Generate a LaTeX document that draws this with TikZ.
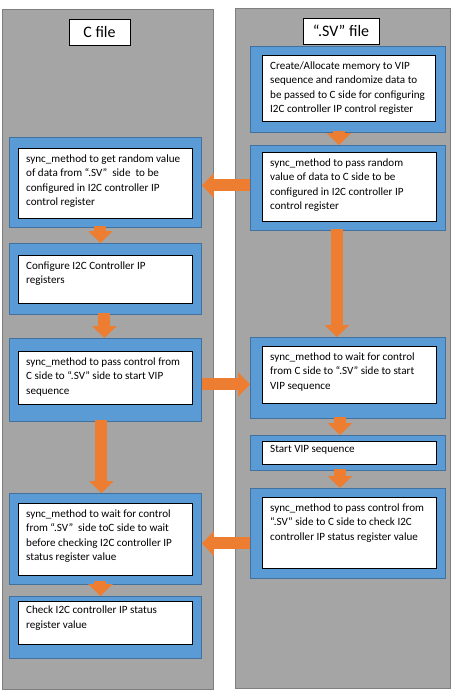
\documentclass[tikz,border=0pt]{standalone}
\usepackage{fontspec}
\setmainfont{Carlito}
\usetikzlibrary{arrows.meta,positioning,calc}
\definecolor{panelgray}{RGB}{165,165,165}
\definecolor{paneledge}{RGB}{127,127,127}
\definecolor{stepblue}{RGB}{91,155,213}
\definecolor{stepedge}{RGB}{65,113,156}
\definecolor{floworange}{RGB}{237,125,49}
\tikzset{
	panel/.style={draw=paneledge,fill=panelgray,line width=0.8pt,anchor=north west},
	filetitle/.style={draw=black,fill=white,line width=0.8pt,minimum height=26pt,
		inner sep=2pt,font=\fontsize{16}{18}\selectfont},
	stepback/.style={draw=stepedge,fill=stepblue,line width=0.9pt,anchor=north west},
	stepcard/.style={draw=black,fill=white,line width=0.8pt,anchor=north west},
	steptext/.style={anchor=north west,align=left,inner xsep=8pt,inner ysep=6.5pt,
		font=\fontsize{11.1}{14.3}\selectfont},
	flow/.style={draw=floworange,line width=12pt,-{Triangle[length=12pt,width=24pt]}},
}

\begin{document}
\begin{tikzpicture}[x=1pt,y=-1pt]
		\useasboundingbox (0,0) rectangle (454,694);
		
		% the two file lanes
		\node[panel,minimum width=211pt,minimum height=680pt] (cpanel) at (2,9) {};
		\node[panel,minimum width=215pt,minimum height=680pt] (svpanel) at (235,8) {};
		\node[filetitle,minimum width=61pt] (ctitle) at (99.5,32) {C file};
		\node[filetitle,minimum width=76pt] (svtitle) at (341,31) {“.SV” file};
		
		% C side steps
		\node[stepback,minimum width=192pt,minimum height=90pt] (cget) at (9,137) {};
		\node[stepcard,minimum width=174pt,minimum height=70pt] (cget-card) at (18,148) {};
		\node[steptext] (cget-text) at (cget-card.north west) {%
			sync\_method to get random value\\
			of data from “.SV”\ \ side\ \ to be\\
			configured in I2C controller IP\\
			control register};
		
		\node[stepback,minimum width=192pt,minimum height=71pt] (cconf) at (9,243) {};
		\node[stepcard,minimum width=174pt,minimum height=48pt] (cconf-card) at (18,255) {};
		\node[steptext] (cconf-text) at (cconf-card.north west) {%
			Configure I2C Controller IP\\
			registers};
		
		\node[stepback,minimum width=192pt,minimum height=83pt] (cpass) at (9,338) {};
		\node[stepcard,minimum width=174pt,minimum height=53pt] (cpass-card) at (18,351) {};
		\node[steptext] (cpass-text) at (cpass-card.north west) {%
			sync\_method to pass control from\\
			C side to “.SV” side to start VIP\\
			sequence};
		
		\node[stepback,minimum width=192pt,minimum height=91pt] (cwait) at (9,493) {};
		\node[stepcard,minimum width=174pt,minimum height=72pt] (cwait-card) at (18,503) {};
		\node[steptext] (cwait-text) at (cwait-card.north west) {%
			sync\_method to wait for control\\
			from “.SV”\ \ side toC side to wait\\
			before checking I2C controller IP\\
			status register value};
		
		\node[stepback,minimum width=192pt,minimum height=62pt] (ccheck) at (9,596) {};
		\node[stepcard,minimum width=174pt,minimum height=43pt] (ccheck-card) at (18,601) {};
		\node[steptext,inner ysep=5pt] (ccheck-text) at (ccheck-card.north west) {%
			Check I2C controller IP status\\
			register value};
		
		% .SV side steps
		\node[stepback,minimum width=195pt,minimum height=86pt] (svcreate) at (250,46) {};
		\node[stepcard,minimum width=173pt,minimum height=66pt] (svcreate-card) at (262,55) {};
		\node[steptext] (svcreate-text) at (svcreate-card.north west) {%
			Create/Allocate memory to VIP\\
			sequence and randomize data to\\
			be passed to C side for configuring\\
			I2C controller IP control register};
		
		\node[stepback,minimum width=195pt,minimum height=85pt] (svpass) at (250,145) {};
		\node[stepcard,minimum width=174pt,minimum height=69pt] (svpass-card) at (262,152) {};
		\node[steptext] (svpass-text) at (svpass-card.north west) {%
			sync\_method to pass random\\
			value of data to C side to be\\
			configured in I2C controller IP\\
			control register};
		
		\node[stepback,minimum width=195pt,minimum height=81pt] (svwait) at (250,337) {};
		\node[stepcard,minimum width=174pt,minimum height=57pt] (svwait-card) at (262,346) {};
		\node[steptext] (svwait-text) at (svwait-card.north west) {%
			sync\_method to wait for control\\
			from C side to “.SV” side to start\\
			VIP sequence};
		
		\node[stepback,minimum width=195pt,minimum height=35pt] (svstart) at (250,435) {};
		\node[stepcard,minimum width=174pt,minimum height=23pt] (svstart-card) at (262,441) {};
		\node[steptext,inner ysep=4pt] (svstart-text) at (svstart-card.north west) {Start VIP sequence};
		
		\node[stepback,minimum width=195pt,minimum height=90pt] (svcheck) at (250,488) {};
		\node[stepcard,minimum width=174pt,minimum height=71pt] (svcheck-card) at (262,497) {};
		\node[steptext] (svcheck-text) at (svcheck-card.north west) {%
			sync\_method to pass control from\\
			“.SV” side to C side to check I2C\\
			controller IP status register value};
		
		% hand-over arrows
		\draw[flow] ($(svcreate.south)+(-9,-2)$) -- ($(svpass.north)+(-9,0)$);
		\draw[flow] ($(svpass.west)+(0,-2.5)$) -- ($(cget.east)+(0,3)$);
		\draw[flow] ($(cget.south)+(-5,-2)$) -- ($(cconf.north)+(-5,0)$);
		\draw[flow] ($(cconf.south)+(-1,-2)$) -- ($(cpass.north)+(-1,0)$);
		\draw[flow] ($(cpass.east)+(0,4.5)$) -- ($(svwait.west)+(0,6.5)$);
		\draw[flow] ($(cpass.south)+(-4,-2)$) -- ($(cwait.north)+(-4,0)$);
		\draw[flow] ($(svpass.south)+(-11,-2)$) -- ($(svwait.north)+(-11,0)$);
		\draw[flow] ($(svwait.south)+(-8,-2)$) -- ($(svstart.north)+(-8,0)$);
		\draw[flow] ($(svstart.south)+(-8,-2)$) -- ($(svcheck.north)+(-8,0)$);
		\draw[flow] ($(svcheck.west)+(0,10)$) -- ($(cwait.east)+(0,4.5)$);
		\draw[flow] ($(cwait.south)+(-5,-4)$) -- ($(ccheck.north)+(-5,0)$);
		
	\end{tikzpicture}
\end{document}
